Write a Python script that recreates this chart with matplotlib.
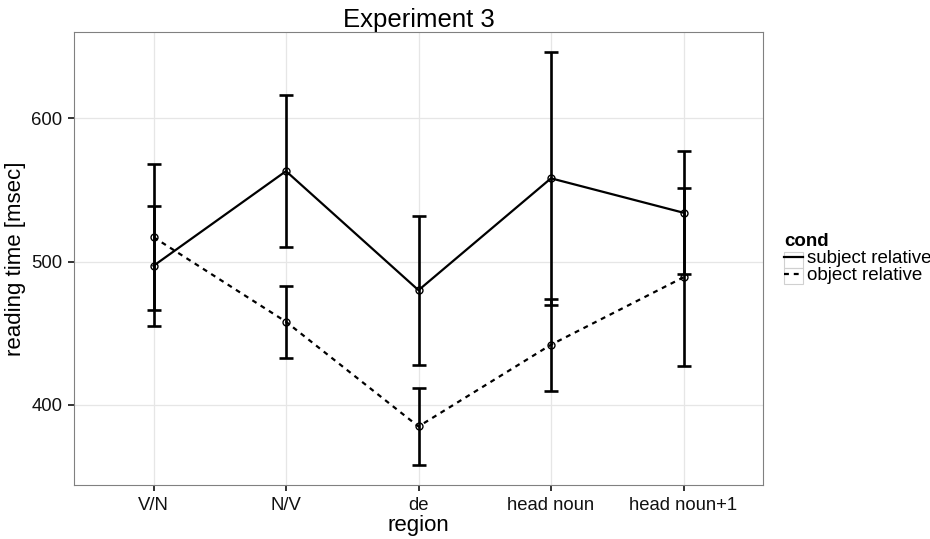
import matplotlib
matplotlib.use("Agg")
import matplotlib.pyplot as plt
import matplotlib.patches as patches

plt.rcParams['font.family'] = ['Liberation Sans', 'DejaVu Sans']

# Data
regions = ['V/N', 'N/V', 'de', 'head noun', 'head noun+1']
subj_mean = [497, 563, 480, 558, 534]
subj_err = [42, 53, 52, 88, 43]
obj_mean = [517, 458, 385, 442, 489]
obj_err = [51, 25, 27, 32, 62]
cond_labels = ['subject relative', 'object relative']

x = list(range(len(regions)))

fig = plt.figure(figsize=(9.3, 5.39), dpi=100)
ax = fig.add_axes([74 / 930, 1 - 485 / 539, (763 - 74) / 930, (485 - 32) / 539])

# lines + open circles
ax.plot(x, subj_mean, '-', color='black', lw=1.6, label=cond_labels[0], zorder=3)
ax.plot(x, obj_mean, color='black', lw=1.6, linestyle=(0, (2.2, 2.2)),
        label=cond_labels[1], zorder=3)
ax.plot(x, subj_mean, 'o', mfc='none', mec='black', ms=5, mew=1.0, zorder=4)
ax.plot(x, obj_mean, 'o', mfc='none', mec='black', ms=5, mew=1.0, zorder=4)

# error bars
ax.errorbar(x, subj_mean, yerr=subj_err, fmt='none', ecolor='black',
            elinewidth=1.9, capsize=5, capthick=1.9, zorder=2)
ax.errorbar(x, obj_mean, yerr=obj_err, fmt='none', ecolor='black',
            elinewidth=1.9, capsize=5, capthick=1.9, zorder=2)

ax.set_xlim(-0.6, 4.6)
ax.set_ylim(344.2, 660)
ax.set_xticks(x)
ax.set_xticklabels(regions)
ax.set_yticks([400, 500, 600])

ax.grid(True, color='#e6e6e6', lw=0.9)
ax.set_axisbelow(True)
for s in ax.spines.values():
    s.set_color('#808080')
    s.set_linewidth(0.8)

ax.tick_params(axis='both', length=4.5, width=1.3, color='#222222',
               labelsize=13.3, labelcolor='#111111', pad=4)

ax.set_title('Experiment 3', fontsize=18.5, pad=3)
ax.set_xlabel('region', fontsize=16, labelpad=1)
ax.set_ylabel('reading time [msec]', fontsize=16, labelpad=4)

# legend
leg = fig.legend(loc='upper left', bbox_to_anchor=(784 / 930, 1 - 233 / 539),
                 frameon=False, title='cond', fontsize=13.5, handlelength=1.0,
                 handletextpad=0.2, labelspacing=0.0, borderpad=0,
                 borderaxespad=0, alignment='left',
                 title_fontproperties={'weight': 'bold', 'size': 13.5})

# grey key boxes
for top in [252, 268]:
    fig.patches.append(patches.Rectangle((784 / 930, 1 - (top + 16) / 539),
                                         19 / 930, 16 / 539, fill=False,
                                         edgecolor='#d0d0d0', lw=0.8,
                                         transform=fig.transFigure))

fig.savefig('out.png', dpi=100)
